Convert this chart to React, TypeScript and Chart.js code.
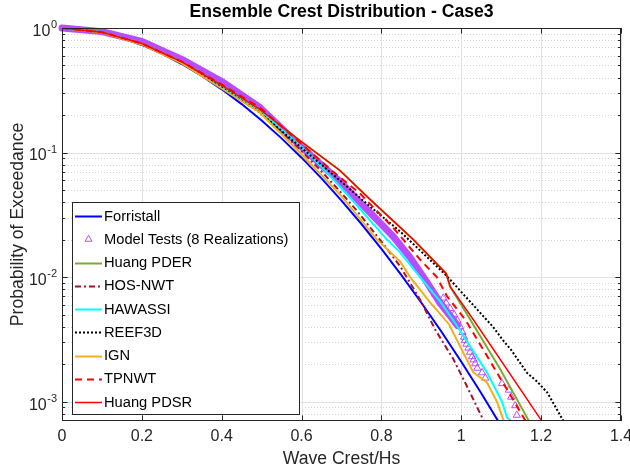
import React, { useEffect, useRef } from 'react';
import { Chart, registerables } from 'chart.js';

Chart.register(...registerables);

// ---------------- data (crest/Hs vs probability of exceedance) ----------------
const forristallCrest = [0, 0.05, 0.1, 0.15, 0.2, 0.25, 0.3, 0.35, 0.4, 0.45, 0.5, 0.55, 0.6, 0.65, 0.7, 0.75, 0.8, 0.85, 0.9, 0.95, 1.0, 1.05, 1.1, 1.12];
const forristallProb = [1, 0.976, 0.917, 0.831, 0.731, 0.622, 0.514, 0.413, 0.322, 0.245, 0.181, 0.13, 0.091, 0.062, 0.0412, 0.0267, 0.01686, 0.01038, 0.00623, 0.00366, 0.00209, 0.00117, 0.000637, 0.00052];

const modelBandCrest = [0, 0.1, 0.2, 0.3, 0.4, 0.4953, 0.5957, 0.6961, 0.76, 0.829, 0.8718, 0.91, 0.947, 0.972, 0.99];
const modelBandProb = [1, 0.935, 0.78, 0.56, 0.372, 0.23, 0.114, 0.0585, 0.036, 0.0213, 0.0144, 0.0095, 0.0062, 0.0049, 0.0041];

const modelTailCrest = [0.955, 0.962, 0.972, 0.982, 0.99, 0.997, 1.003, 1.007, 1.009, 1.013, 1.018, 1.022, 1.027, 1.031, 1.035, 1.04, 1.052, 1.06, 1.102, 1.119, 1.125, 1.135, 1.139];
const modelTailProb = [0.0068, 0.0062, 0.0056, 0.005, 0.0045, 0.004, 0.0036, 0.0033, 0.0031, 0.0029, 0.0027, 0.0025, 0.0023, 0.00217, 0.00202, 0.00186, 0.00171, 0.00155, 0.0014, 0.00124, 0.00109, 0.00093, 0.00078];

const pderCrest = [0, 0.1, 0.2, 0.3, 0.4, 0.4953, 0.5957, 0.6961, 0.7714, 0.8793, 0.9621, 0.9721, 1.0223, 1.0976, 1.1686, 1.183];
const pderProb = [1, 0.925, 0.75, 0.535, 0.346, 0.222, 0.125, 0.0718, 0.0421, 0.0201, 0.0107, 0.0084, 0.00457, 0.00182, 0.000708, 0.000589];

const hosCrest = [0, 0.1, 0.2, 0.3, 0.4, 0.4953, 0.5957, 0.65, 0.7, 0.738, 0.8, 0.8467, 0.8968, 0.9345, 0.9804, 1.0141, 1.0557, 1.0675];
const hosProb = [1, 0.922, 0.74, 0.525, 0.333, 0.214, 0.106, 0.0706, 0.0473, 0.0343, 0.0193, 0.01225, 0.0066, 0.0038, 0.00219, 0.00133, 0.000708, 0.000589];

const hawassiCrest = [0, 0.1, 0.2, 0.3, 0.4, 0.4953, 0.5957, 0.65, 0.7211, 0.8133, 0.8467, 0.8968, 0.947, 0.9872, 1.0642, 1.1019, 1.1144, 1.1227, 1.1327];
const hawassiProb = [1, 0.924, 0.745, 0.53, 0.339, 0.218, 0.114, 0.0769, 0.0436, 0.0201, 0.0158, 0.01, 0.00638, 0.00417, 0.00172, 0.001, 0.000748, 0.000708, 0.0006];

const reefCrest = [0, 0.1, 0.2, 0.3, 0.4, 0.4953, 0.5957, 0.6961, 0.7714, 0.8467, 0.9639, 1.08, 1.105, 1.125, 1.1478, 1.165, 1.19, 1.2148, 1.235, 1.255, 1.2734];
const reefProb = [1, 0.922, 0.742, 0.528, 0.333, 0.21, 0.112, 0.0597, 0.0369, 0.0233, 0.0102, 0.00397, 0.0031, 0.0026, 0.00204, 0.0017, 0.00145, 0.00119, 0.00092, 0.000708, 0.000578];

const ignCrest = [0, 0.1, 0.2, 0.3, 0.4, 0.4953, 0.5957, 0.6961, 0.7882, 0.8467, 0.8718, 0.922, 0.9696, 1.0299, 1.0642, 1.0893, 1.1059, 1.1177];
const ignProb = [1, 0.92, 0.738, 0.52, 0.327, 0.21, 0.1, 0.0461, 0.0201, 0.01337, 0.01, 0.00627, 0.00417, 0.00172, 0.00143, 0.001, 0.000708, 0.000589];

const tpnwtCrest = [0, 0.1, 0.2, 0.3, 0.4, 0.4953, 0.5957, 0.6785, 0.7463, 0.8291, 0.8968, 0.9388, 0.9639, 1.0098, 1.08, 1.1327, 1.1603, 1.1754];
const tpnwtProb = [1, 0.926, 0.75, 0.537, 0.352, 0.23, 0.1205, 0.0705, 0.0469, 0.025, 0.01384, 0.01, 0.00704, 0.00457, 0.00192, 0.001, 0.000708, 0.000589];

const pdsrCrest = [0, 0.1, 0.2, 0.3, 0.4, 0.4953, 0.5957, 0.6961, 0.7714, 0.8793, 0.9621, 0.9721, 1.0299, 1.2006, 1.218];
const pdsrProb = [1, 0.925, 0.75, 0.535, 0.346, 0.222, 0.125, 0.0718, 0.0421, 0.0201, 0.0107, 0.0084, 0.00457, 0.000708, 0.000589];

const xTickValues = [0, 0.2, 0.4, 0.6, 0.8, 1, 1.2, 1.4];
const xTickLabels = ['0', '0.2', '0.4', '0.6', '0.8', '1', '1.2', '1.4'];
const yMajorValues = [1, 0.1, 0.01, 0.001];
const yMajorExponents = ['0', '-1', '-2', '-3'];

const X_MIN = 0;
const X_MAX = 1.4;
const Y_MIN = 7e-4;
const Y_MAX = 1;

const FONT = "'Liberation Sans', Arial, Helvetica, sans-serif";
const AXIS_COLOR = '#262626';
const PURPLE = '#b84cff';

function pts(xs: number[], ys: number[]) {
  return xs.map((x, i) => ({ x, y: ys[i] }));
}

function lineSet(label: string, xs: number[], ys: number[], color: string, width: number, dash: number[], order: number) {
  return {
    label,
    data: pts(xs, ys),
    showLine: true,
    borderColor: color,
    backgroundColor: color,
    borderWidth: width,
    borderDash: dash,
    pointRadius: 0,
    pointHoverRadius: 0,
    fill: false,
    tension: 0,
    clip: 0,
    order,
  };
}

function minorYValues(): number[] {
  const out: number[] = [];
  for (let e = -4; e <= 0; e++) {
    for (let k = 2; k <= 9; k++) {
      const v = k * Math.pow(10, e);
      if (v > Y_MIN * 1.0001 && v < Y_MAX) out.push(v);
    }
  }
  return out;
}

function drawTriangle(ctx: CanvasRenderingContext2D, x: number, y: number, r: number) {
  ctx.beginPath();
  ctx.moveTo(x, y - r);
  ctx.lineTo(x + r * Math.sin(Math.PI / 3), y + r * 0.5);
  ctx.lineTo(x - r * Math.sin(Math.PI / 3), y + r * 0.5);
  ctx.closePath();
  ctx.stroke();
}

const axesPlugin = {
  id: 'matlabAxes',
  beforeDatasetsDraw(chart: any) {
    const { ctx, chartArea: a, scales } = chart;
    const xs = scales.x;
    const ys = scales.y;
    ctx.save();
    ctx.lineWidth = 1;
    ctx.strokeStyle = '#d2d2d2';
    ctx.setLineDash([1, 2]);
    for (const v of minorYValues()) {
      const py = Math.round(ys.getPixelForValue(v)) + 0.5;
      ctx.beginPath();
      ctx.moveTo(a.left, py);
      ctx.lineTo(a.right, py);
      ctx.stroke();
    }
    ctx.setLineDash([]);
    ctx.strokeStyle = '#e0e0e0';
    for (const v of yMajorValues) {
      const py = Math.round(ys.getPixelForValue(v)) + 0.5;
      ctx.beginPath();
      ctx.moveTo(a.left, py);
      ctx.lineTo(a.right, py);
      ctx.stroke();
    }
    for (const v of xTickValues) {
      const px = Math.round(xs.getPixelForValue(v)) + 0.5;
      ctx.beginPath();
      ctx.moveTo(px, a.top);
      ctx.lineTo(px, a.bottom);
      ctx.stroke();
    }
    ctx.restore();
  },
  afterDatasetsDraw(chart: any) {
    const { ctx, chartArea: a, scales } = chart;
    const xs = scales.x;
    const ys = scales.y;
    ctx.save();
    ctx.strokeStyle = AXIS_COLOR;
    ctx.lineWidth = 1;
    ctx.setLineDash([]);
    ctx.strokeRect(a.left + 0.5, a.top + 0.5, a.right - a.left - 1, a.bottom - a.top - 1);
    const TL = 5.6;
    const TLm = 3;
    ctx.beginPath();
    for (const v of xTickValues) {
      const px = Math.round(xs.getPixelForValue(v)) + 0.5;
      ctx.moveTo(px, a.bottom);
      ctx.lineTo(px, a.bottom - TL);
      ctx.moveTo(px, a.top);
      ctx.lineTo(px, a.top + TL);
    }
    for (const v of yMajorValues) {
      const py = Math.round(ys.getPixelForValue(v)) + 0.5;
      ctx.moveTo(a.left, py);
      ctx.lineTo(a.left + TL, py);
      ctx.moveTo(a.right, py);
      ctx.lineTo(a.right - TL, py);
    }
    for (const v of minorYValues()) {
      const py = Math.round(ys.getPixelForValue(v)) + 0.5;
      ctx.moveTo(a.left, py);
      ctx.lineTo(a.left + TLm, py);
      ctx.moveTo(a.right, py);
      ctx.lineTo(a.right - TLm, py);
    }
    ctx.stroke();

    ctx.fillStyle = AXIS_COLOR;
    ctx.font = `16px ${FONT}`;
    ctx.textAlign = 'center';
    ctx.textBaseline = 'middle';
    xTickValues.forEach((v, i) => {
      ctx.fillText(xTickLabels[i], xs.getPixelForValue(v), a.bottom + 16);
    });
    yMajorValues.forEach((v, i) => {
      const py = ys.getPixelForValue(v);
      ctx.font = `11px ${FONT}`;
      const ew = ctx.measureText(yMajorExponents[i]).width;
      const right = a.left - 5;
      ctx.textAlign = 'left';
      ctx.textBaseline = 'middle';
      ctx.fillText(yMajorExponents[i], right - ew, py - 3);
      ctx.font = `16px ${FONT}`;
      ctx.textAlign = 'right';
      ctx.fillText('10', right - ew - 0.5, py + 3.5);
    });
    ctx.font = `17.6px ${FONT}`;
    ctx.textAlign = 'center';
    ctx.textBaseline = 'middle';
    ctx.fillText('Wave Crest/Hs', (a.left + a.right) / 2, a.bottom + 38);
    ctx.save();
    ctx.translate(18.5, (a.top + a.bottom) / 2);
    ctx.rotate(-Math.PI / 2);
    ctx.fillText('Probability of Exceedance', 0, 0);
    ctx.restore();
    ctx.fillStyle = '#000';
    ctx.font = `bold 17.6px ${FONT}`;
    ctx.fillText('Ensemble Crest Distribution - Case3', (a.left + a.right) / 2, 12.5);

    // legend
    const bx = a.left + 10;
    const by = 202;
    const bw = 227;
    const bh = 212;
    ctx.fillStyle = '#fff';
    ctx.fillRect(bx, by, bw, bh);
    ctx.strokeStyle = AXIS_COLOR;
    ctx.lineWidth = 1;
    ctx.strokeRect(bx + 0.5, by + 0.5, bw, bh);
    const items = chart.data.datasets.filter((d: any) => !d.hideInLegend);
    items.forEach((d: any, i: number) => {
      const yy = by + 14 + i * 23.25;
      const x0 = bx + 3;
      const x1 = bx + 30;
      if (d.isMarker) {
        ctx.strokeStyle = PURPLE;
        ctx.lineWidth = 1;
        ctx.setLineDash([]);
        drawTriangle(ctx, (x0 + x1) / 2, yy, 4);
      } else {
        ctx.strokeStyle = d.borderColor;
        ctx.lineWidth = d.borderWidth;
        ctx.setLineDash(d.borderDash || []);
        ctx.beginPath();
        ctx.moveTo(x0, Math.round(yy) + 0.5);
        ctx.lineTo(x1, Math.round(yy) + 0.5);
        ctx.stroke();
        ctx.setLineDash([]);
      }
      ctx.fillStyle = '#000';
      ctx.font = `14.7px ${FONT}`;
      ctx.textAlign = 'left';
      ctx.textBaseline = 'middle';
      ctx.fillText(d.label, x1 + 2, yy + 0.5);
    });
    ctx.restore();
  },
};

export default function App() {
  const ref = useRef<HTMLCanvasElement | null>(null);

  useEffect(() => {
    document.body.style.margin = '0';
    const canvas = ref.current;
    if (!canvas) return;

    const datasets: any[] = [
      lineSet('Forristall', forristallCrest, forristallProb, '#0000ff', 2, [], 10),
      {
        label: 'Model Tests band',
        hideInLegend: true,
        data: pts(modelBandCrest, modelBandProb),
        showLine: true,
        borderColor: PURPLE,
        borderWidth: 7,
        borderCapStyle: 'round',
        borderJoinStyle: 'round',
        pointRadius: 0,
        fill: false,
        tension: 0,
        clip: 4,
        order: 9,
      },
      {
        label: 'Model Tests (8 Realizations)',
        isMarker: true,
        data: pts(modelTailCrest, modelTailProb),
        showLine: false,
        pointStyle: 'triangle',
        pointRadius: 4.2,
        pointBorderWidth: 1,
        pointBorderColor: PURPLE,
        pointBackgroundColor: 'rgba(0,0,0,0)',
        borderColor: PURPLE,
        backgroundColor: 'rgba(0,0,0,0)',
        clip: 5,
        order: 9,
      },
      lineSet('Huang PDER', pderCrest, pderProb, '#77ac30', 2, [], 8),
      lineSet('HOS-NWT', hosCrest, hosProb, '#a2142f', 2, [6, 3, 2, 3], 7),
      lineSet('HAWASSI', hawassiCrest, hawassiProb, '#00ffff', 2, [], 6),
      lineSet('REEF3D', reefCrest, reefProb, '#000000', 2, [2, 2], 5),
      lineSet('IGN', ignCrest, ignProb, '#edb120', 2, [], 4),
      lineSet('TPNWT', tpnwtCrest, tpnwtProb, '#ff0000', 2, [7, 5], 3),
      lineSet('Huang PDSR', pdsrCrest, pdsrProb, '#ff0000', 1.5, [], 2),
    ];

    const chart = new Chart(canvas, {
      type: 'scatter',
      data: { datasets },
      options: {
        animation: false,
        responsive: false,
        devicePixelRatio: 1,
        events: [],
        layout: { padding: { left: 62, right: 9, top: 28, bottom: 50 } },
        plugins: {
          legend: { display: false },
          title: { display: false },
          tooltip: { enabled: false },
        },
        scales: {
          x: { type: 'linear', min: X_MIN, max: X_MAX, display: false },
          y: { type: 'logarithmic', min: Y_MIN, max: Y_MAX, display: false },
        },
      } as any,
      plugins: [axesPlugin],
    });
    return () => chart.destroy();
  }, []);

  return (
    <div style={{ position: 'absolute', left: 0, top: 0, width: 630, height: 471, background: '#fff' }}>
      <canvas ref={ref} width={630} height={471} style={{ width: 630, height: 471, display: 'block' }} />
    </div>
  );
}
